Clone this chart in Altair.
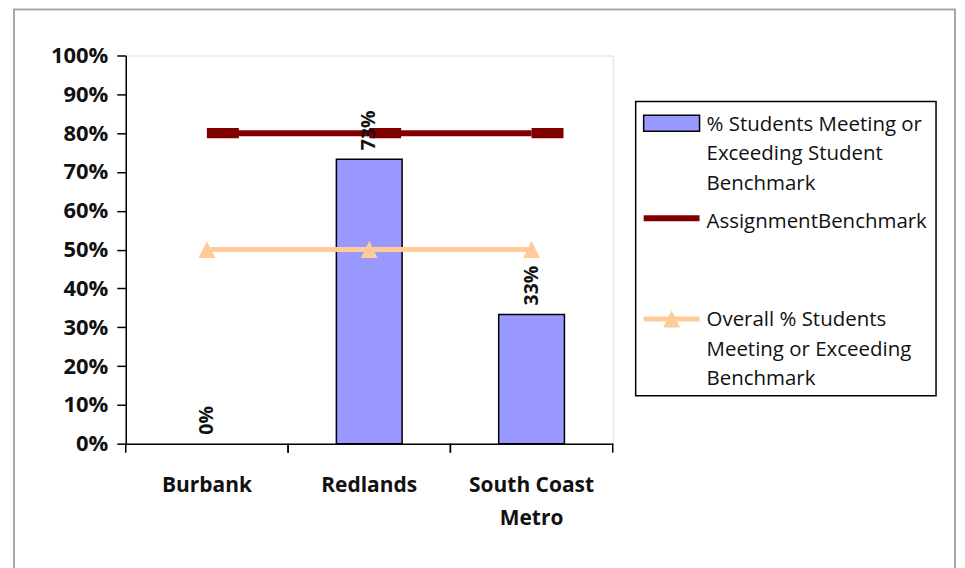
import altair as alt
import pandas as pd

# ---- data ----
categories = ["Burbank", "Redlands", "South Coast Metro"]
pct_meeting = [0.0, 0.733, 0.333]
assignment_benchmark = [0.8, 0.8, 0.8]
overall_pct = [0.5, 0.5, 0.5]
series_names = [
    "% Students Meeting or Exceeding Student Benchmark",
    "AssignmentBenchmark",
    "Overall % Students Meeting or Exceeding Benchmark",
]
legend_lines = [
    ["% Students Meeting or", "Exceeding Student", "Benchmark"],
    ["AssignmentBenchmark"],
    ["Overall % Students", "Meeting or Exceeding", "Benchmark"],
]
y_ticks = [0, 0.1, 0.2, 0.3, 0.4, 0.5, 0.6, 0.7, 0.8, 0.9, 1.0]

df = pd.DataFrame({
    "cat": categories,
    "pct": pct_meeting,
    "bench": assignment_benchmark,
    "overall": overall_pct,
})
one = pd.DataFrame({"k": [0]})

FONT = "Open Sans"
BAR = "#9999FF"
RED = "#800000"
ORANGE = "#FFCC99"
W, H = 488, 389

x_axis = alt.Axis(
    title=None, ticks=False, tickSize=0, labelPadding=31, labelAngle=0,
    labelFont=FONT, labelFontSize=21, labelFontWeight="bold", labelColor="#111111",
    labelLineHeight=33, domainColor="#000000", domainWidth=1.5, grid=False,
    labelOverlap=False,
    labelExpr="datum.label == 'South Coast Metro' ? ['South Coast', 'Metro'] : datum.label",
)
x_scale = alt.Scale(paddingInner=0, paddingOuter=0)
y_axis = alt.Axis(
    title=None, values=y_ticks, tickCount=len(y_ticks) + 2, format=".0%", tickSize=9,
    tickColor="#000000", tickWidth=1.5, labelPadding=9, labelFont=FONT, labelFontSize=22,
    labelFontWeight="bold", labelColor="#111111", domainColor="#000000",
    domainWidth=1.5, grid=False, labelOverlap=False,
)
y_scale = alt.Scale(domain=[0, 1], nice=False)


def X(**kw):
    return alt.X("cat:N", sort=categories, title=None, scale=x_scale, axis=x_axis, **kw)


def Y(field):
    return alt.Y(f"{field}:Q", scale=y_scale, axis=y_axis, title=None)


base = alt.Chart(df)

bars = base.transform_filter("datum.pct > 0").mark_bar(
    width={"band": 0.405}, fill=BAR, stroke="#000000", strokeWidth=1.5
).encode(x=X(), y=Y("pct"))

xticks0 = base.mark_rule(color="#000000", strokeWidth=1.5).encode(
    x=X(bandPosition=0), y=alt.value(H), y2=alt.value(H + 9),
)
xticks1 = base.mark_rule(color="#000000", strokeWidth=1.5).encode(
    x=X(bandPosition=1), y=alt.value(H), y2=alt.value(H + 9),
)

red_line = base.mark_line(color=RED, strokeWidth=6).encode(x=X(), y=Y("bench"))
RECT_PATH = "M0,-0.32L2,-0.32L2,0.32L0,0.32Z"
red_marks = base.mark_point(shape=RECT_PATH, size=1024, filled=True, color=RED, opacity=1).encode(
    x=X(), y=Y("bench")
)

TRI_PATH = "M0,-1L1,1L-1,1Z"
orange_line = base.mark_line(color=ORANGE, strokeWidth=5).encode(x=X(), y=Y("overall"))
orange_marks = base.mark_point(shape=TRI_PATH, size=289, filled=True, color=ORANGE, opacity=1).encode(
    x=X(), y=Y("overall")
)

labels = base.mark_text(
    angle=270, align="left", baseline="middle", dx=9,
    font=FONT, fontSize=19.5, fontWeight="bold", color="#111111",
).encode(x=X(), y=Y("pct"), text=alt.Text("pct:Q", format=".0%"))

# ---- outer chart border ----
border = alt.Chart(one).mark_rect(fillOpacity=0, stroke="#a6a6a6", strokeWidth=2).encode(
    x=alt.value(-112), x2=alt.value(831), y=alt.value(-46), y2=alt.value(560)
)

# ---- legend ----
LX0, LX1 = 519, 575
legend_box = alt.Chart(one).mark_rect(fill="white", stroke="#000000", strokeWidth=1.5).encode(
    x=alt.value(511), x2=alt.value(812), y=alt.value(46), y2=alt.value(341)
)
leg_swatch = alt.Chart(one).mark_rect(fill=BAR, stroke="#000000", strokeWidth=1.5).encode(
    x=alt.value(LX0), x2=alt.value(LX1), y=alt.value(60), y2=alt.value(76)
)
leg_red = alt.Chart(one).mark_rule(color=RED, strokeWidth=6).encode(
    x=alt.value(LX0), x2=alt.value(LX1), y=alt.value(163)
)
leg_orange = alt.Chart(one).mark_rule(color=ORANGE, strokeWidth=5).encode(
    x=alt.value(LX0), x2=alt.value(LX1), y=alt.value(264)
)
leg_tri = alt.Chart(one).mark_point(shape=TRI_PATH, size=289, filled=True, color=ORANGE, opacity=1).encode(
    x=alt.value(547), y=alt.value(264)
)
text_baselines = [75.7, 173, 271.4]
leg_texts = []
for lines, yb in zip(legend_lines, text_baselines):
    leg_texts.append(
        alt.Chart(one).mark_text(
            align="left", baseline="alphabetic", lineBreak="\n", lineHeight=29.5,
            font=FONT, fontSize=20.5, color="#111111",
        ).encode(x=alt.value(582), y=alt.value(yb), text=alt.value("\n".join(lines)))
    )

chart = alt.layer(
    border, bars, xticks0, xticks1, red_line, red_marks, orange_line, orange_marks, labels,
    legend_box, leg_swatch, leg_red, leg_orange, leg_tri, *leg_texts,
).properties(
    width=W, height=H,
    autosize=alt.AutoSizeParams(type="none"),
    padding={"left": 118, "top": 47, "right": 345, "bottom": 130},
).configure_view(strokeWidth=0).configure(background="white")

chart.save("out.html", embed_options={"renderer": "svg", "actions": False})
